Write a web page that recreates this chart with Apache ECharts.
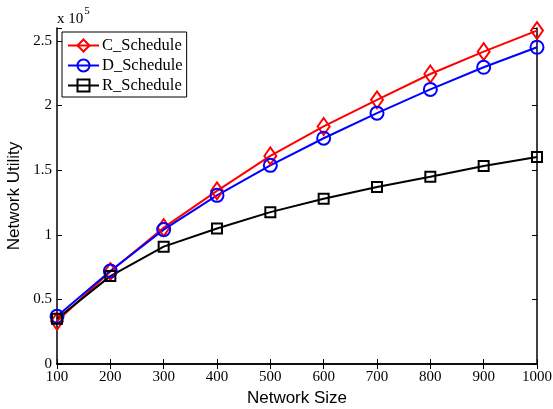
<!DOCTYPE html>
<html><head><meta charset="utf-8">
<script src="https://cdn.jsdelivr.net/npm/echarts@6/dist/echarts.min.js"></script>
<style>html,body{margin:0;padding:0;background:#fff}#c{width:553px;height:409px}</style>
</head><body><div id="c"></div>
<script>
const categories = [100, 200, 300, 400, 500, 600, 700, 800, 900, 1000];
const cSchedule = [33000, 71500, 105500, 134000, 161000, 183800, 204400, 224400, 241700, 258000];
const dSchedule = [37000, 72000, 104000, 130500, 153700, 174700, 194100, 212500, 229600, 245100];
const rSchedule = [35000, 68000, 90800, 104800, 117500, 127900, 136900, 144900, 153200, 160200];
const yTicks = ['0', '0.5', '1', '1.5', '2', '2.5'];

const serif = 'Liberation Serif';
const sans = 'Liberation Sans';
function pairs(arr){ return categories.map((x,i)=>[x, arr[i]]); }
function ser(name, arr, color, symbol, size){
  return {name, type:'line', data:pairs(arr), symbol, symbolSize:size,
    lineStyle:{color, width:2}, itemStyle:{color:'rgba(255,255,255,0)', borderColor:color, borderWidth:2},
    emphasis:{disabled:true}, animation:false, z:3};
}
const chart = echarts.init(document.getElementById('c'));
const axisLine = {show:true, lineStyle:{color:'#000', width:1.5}};
chart.setOption({
  backgroundColor:'#fff',
  animation:false,
  grid:{left:57, right:16, top:28, bottom:45, containLabel:false, outerBoundsMode:'none'},
  legend:{
    left:62, top:32, orient:'vertical', itemWidth:31, itemHeight:15, itemGap:3,
    borderColor:'#000', borderWidth:1, padding:[5,4,3,5], backgroundColor:'#fff',
    textStyle:{fontFamily:serif, fontSize:16.5, color:'#000', padding:[0,0,0,-2]},
    data:['C_Schedule','D_Schedule','R_Schedule']
  },
  xAxis:[{
    type:'value', min:100, max:1000, interval:100,
    name:'Network Size', nameLocation:'middle', nameGap:20,
    nameTextStyle:{fontFamily:sans, fontSize:17, color:'#000'},
    axisLine, axisTick:{show:true, inside:true, length:5, lineStyle:{color:'#000'}},
    axisLabel:{fontFamily:serif, fontSize:15, color:'#000', margin:6, formatter:v=>String(v)},
    splitLine:{show:false}
  },{
    type:'value', min:100, max:1000, interval:100, position:'top',
    axisLine, axisTick:{show:true, inside:true, length:5, lineStyle:{color:'#000'}},
    axisLabel:{show:false}, splitLine:{show:false}
  }],
  yAxis:[{
    type:'value', min:0, max:260000, interval:50000,
    name:'Network Utility', nameLocation:'middle', nameGap:28,
    nameTextStyle:{fontFamily:sans, fontSize:17, color:'#000'},
    axisLine, axisTick:{show:true, inside:true, length:5, lineStyle:{color:'#000'}},
    axisLabel:{fontFamily:serif, fontSize:15, color:'#000', margin:5,
      formatter:v=>{ const i = Math.round(v/50000); return (v%50000===0 && i<yTicks.length) ? yTicks[i] : ''; }},
    splitLine:{show:false}
  },{
    type:'value', min:0, max:260000, interval:50000, position:'right',
    axisLine, axisTick:{show:true, inside:true, length:5, lineStyle:{color:'#000'}},
    axisLabel:{show:false}, splitLine:{show:false}
  }],
  graphic:[{
    type:'text', left:57, top:6,
    style:{text:'{a|x 10}{b|5}', rich:{
      a:{fontFamily:serif, fontSize:15, fill:'#000', padding:[6,0,0,0]},
      b:{fontFamily:serif, fontSize:11, fill:'#000', verticalAlign:'top', padding:[0,0,8,1]}
    }}
  }],
  series:[
    ser('C_Schedule', cSchedule, '#ff0000', 'diamond', [12,17]),
    ser('D_Schedule', dSchedule, '#0000ff', 'circle', 13),
    ser('R_Schedule', rSchedule, '#000000', 'rect', 10)
  ]
});
</script></body></html>
